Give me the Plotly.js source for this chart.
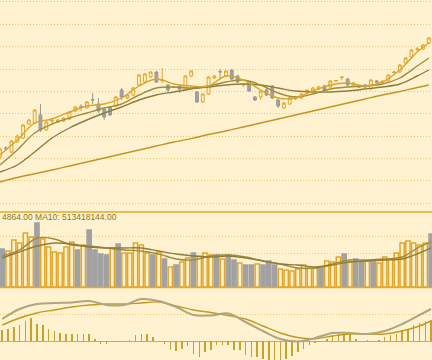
<!DOCTYPE html>
<html>
<head>
<meta charset="utf-8">
<script src="https://cdn.plot.ly/plotly-3.0.1.min.js"></script>
<style>html,body{margin:0;padding:0;background:#FFF2D0;}#chart{width:432px;height:360px;}</style>
</head>
<body>
<div id="chart"></div>
<script>
// ---- data ----
// candle index 0..75
const candleIdx = Array.from({length: 76}, (_, i) => i);
const openP  = [2550,2640,2600,2700,2740,2880,2890,2970,2820,2910,2900,2910,2930,3010,3055,3040,3125,3080,3030,3050,3060,3220,3140,3170,3270,3300,3350,3400,3315,3270,3245,3260,3220,3360,3200,3100,3180,3340,3405,3360,3420,3360,3270,3300,3150,3150,3220,3260,3120,3040,3080,3130,3140,3200,3210,3230,3260,3250,3310,3345,3330,3260,3255,3270,3230,3310,3300,3310,3395,3400,3490,3550,3625,3630,3690,3740];
const highP  = [2650,2660,2720,2775,2880,2930,3030,3080,2910,2940,2930,2950,3010,3060,3080,3110,3190,3140,3040,3060,3160,3240,3180,3250,3380,3390,3410,3410,3440,3280,3260,3270,3370,3420,3210,3190,3360,3370,3430,3420,3430,3370,3290,3310,3160,3220,3250,3270,3130,3100,3150,3160,3190,3230,3250,3260,3270,3320,3320,3350,3340,3300,3270,3280,3330,3320,3320,3380,3410,3480,3550,3630,3650,3680,3750,3750];
const lowP   = [2520,2610,2590,2690,2730,2870,2880,2800,2810,2890,2890,2900,2920,3000,3010,3030,3080,2990,2920,2960,3050,3120,3130,3160,3260,3290,3340,3290,3290,3190,3240,3190,3210,3350,3090,3090,3170,3330,3340,3350,3320,3290,3250,3200,3110,3120,3160,3130,3040,3030,3070,3120,3130,3190,3200,3220,3210,3240,3300,3320,3260,3250,3240,3240,3220,3290,3290,3300,3380,3390,3480,3540,3610,3620,3680,3710];
const closeP = [2630,2635,2710,2760,2870,2920,3020,2820,2900,2915,2920,2940,3000,3050,3050,3100,3120,3010,2950,2970,3150,3150,3170,3240,3370,3380,3400,3300,3320,3220,3250,3230,3360,3410,3100,3180,3350,3360,3400,3410,3330,3300,3275,3210,3120,3210,3170,3140,3060,3090,3140,3150,3180,3220,3240,3250,3220,3310,3315,3350,3270,3290,3250,3250,3320,3300,3305,3370,3400,3470,3540,3620,3630,3670,3740,3720];
// volume / MACD index 1..75
const barIdx = Array.from({length: 75}, (_, i) => i + 1);
const volume = [650,616,804,752,923,855,1094,821,684,598,581,684,770,633,718,975,633,564,547,667,735,581,581,752,718,581,547,598,479,342,376,428,496,581,530,581,547,547,479,547,462,410,376,376,393,376,445,376,308,291,274,308,376,325,325,342,445,428,513,564,428,479,445,445,428,410,513,479,581,752,787,752,718,752,906];
const macdHist = [10.7,12,14,16,20,23,17,16,12,10,8,7,7,7,7,7,2,-3,-3,-1,0,0.5,1,6,7,7,4,0,-3,-9,-10,-8,-5,-13,-16,-11,-9,-4,-4,-4,-9,-9,-14,-16,-16,-18,-19,-20,-19,-18,-15,-11,-8,-4,-2,0.5,2,6,7,7,7,2,0,0.7,0.5,1,4,6,7,11,12,16,18,20,21];
// moving averages on the price pane (candle index)
const maIdx = [0,3,6,9,12,15,18,21,24,27,30,33,36,39,42,45,48,51,54,57,60,63,66,69,72,74];
const ma5  = [2570,2720,2890,2930,3000,3060,3080,3140,3260,3330,3280,3260,3260,3360,3320,3220,3140,3140,3210,3270,3290,3260,3300,3420,3600,3690];
const ma10 = [2470,2620,2790,2880,2940,2990,3040,3080,3170,3240,3250,3240,3260,3300,3320,3270,3190,3150,3180,3230,3250,3260,3280,3340,3460,3540];
const ma20 = [2400,2470,2600,2740,2840,2920,2990,3050,3120,3170,3200,3230,3250,3270,3280,3270,3240,3210,3200,3200,3210,3230,3250,3280,3360,3420];
const ma60 = [2300,2345,2383,2420,2460,2500,2540,2580,2620,2660,2700,2734,2775,2810,2850,2890,2930,2970,3010,3050,3090,3130,3170,3205,3245,3270];
// volume MAs and MACD lines (bar index)
const lineIdx = [1,4,7,10,13,16,19,22,25,28,31,34,37,40,43,46,49,52,55,58,61,64,67,70,73,75];
const volMa5  = [530,633,838,821,718,701,667,633,616,564,479,462,530,547,513,445,393,325,325,393,462,462,479,513,684,770];
const volMa10 = [496,599,701,752,735,684,667,667,667,616,564,530,513,530,496,445,393,376,342,376,428,445,462,479,581,667];
const dif = [22,32,37,38,38.5,40,36,36,42,40,34,26,25.5,27.5,19,10,2,-0.5,3,8,8,7,10,17,26,32];
const dea = [16,23,28,31,34,36,37,37,38,39,35,31,28.5,25.5,22,15,8,3.5,2.3,5,7,7,7,10,15,20];
const legendText = '4864.00 MA10: 513418144.00';

// ---- styles ----
const BG = '#FFF2D0';
const GOLD = '#E2A52A';
const GREY = '#A2A2A2';
const GRID = '#F0C766';
const H = 360;
const py = p => 1 - p / H;  // pixel row -> paper fraction

const barUp = barIdx.map(n => closeP[n] >= openP[n]);

const traces = [
  {type:'candlestick', x: candleIdx, open: openP, high: highP, low: lowP, close: closeP,
   xaxis:'x', yaxis:'y', whiskerwidth: 0,
   increasing:{line:{color:GOLD, width:1}, fillcolor: BG},
   decreasing:{line:{color:'#999999', width:1}, fillcolor: GREY}, hoverinfo:'skip'},
  {type:'scatter', mode:'lines', x: maIdx, y: ma60, xaxis:'x', yaxis:'y', line:{color:'#C39422', width:1.4, shape:'spline'}},
  {type:'scatter', mode:'lines', x: maIdx, y: ma20, xaxis:'x', yaxis:'y', line:{color:'#8F7C3C', width:1.4, shape:'spline'}},
  {type:'scatter', mode:'lines', x: maIdx, y: ma10, xaxis:'x', yaxis:'y', line:{color:'#A38B38', width:1.4, shape:'spline'}},
  {type:'scatter', mode:'lines', x: maIdx, y: ma5,  xaxis:'x', yaxis:'y', line:{color:'#D6A52A', width:1.4, shape:'spline'}},
  {type:'bar', x: barIdx, y: volume, xaxis:'x2', yaxis:'y2', width: 0.72,
   marker:{color: barUp.map(u => u ? BG : GREY), line:{color: barUp.map(u => u ? GOLD : GREY), width:1.5}}},
  {type:'scatter', mode:'lines', x: lineIdx, y: volMa5,  xaxis:'x2', yaxis:'y2', line:{color:'#A38B38', width:1.4, shape:'spline'}},
  {type:'scatter', mode:'lines', x: lineIdx, y: volMa10, xaxis:'x2', yaxis:'y2', line:{color:'#8F7C3C', width:1.4, shape:'spline'}},
  {type:'bar', x: barIdx, y: macdHist, xaxis:'x3', yaxis:'y3', width: 0.26, marker:{color:'#C9A22C', line:{width:0}}},
  {type:'scatter', mode:'lines', x: lineIdx, y: dea, xaxis:'x3', yaxis:'y3', line:{color:'#C49A1E', width:1.4, shape:'spline'}},
  {type:'scatter', mode:'lines', x: lineIdx, y: dif, xaxis:'x3', yaxis:'y3', line:{color:'#AFA583', width:2, shape:'spline'}}
];

const hiddenX = {visible:false, fixedrange:true};
const gridY = {showticklabels:false, zeroline:false, gridcolor: GRID, griddash:'1px,2px', gridwidth:1, fixedrange:true};

const layout = {
  width: 432, height: 360, margin:{l:0,r:0,t:0,b:0,pad:0},
  paper_bgcolor: BG, plot_bgcolor: BG, showlegend:false, bargap:0, boxgap:0.3,
  xaxis: Object.assign({}, hiddenX, {anchor:'y', range:[0.017, 74.55], rangeslider:{visible:false}}),
  xaxis2: Object.assign({}, hiddenX, {anchor:'y2', range:[0.62, 75.156]}),
  xaxis3: Object.assign({}, hiddenX, {anchor:'y3', range:[0.62, 75.156]}),
  yaxis: Object.assign({}, gridY, {domain:[py(212), 1], range:[2000, 4120], tickmode:'linear', tick0: 2087, dtick: 223.7}),
  yaxis2: Object.assign({}, gridY, {domain:[py(287), py(212)], range:[0, 1282], tickmode:'array', tickvals:[581, 855]}),
  yaxis3: Object.assign({}, gridY, {domain:[0, py(287)], range:[-19, 54], tickmode:'array', tickvals:[27],
          zeroline:true, zerolinecolor:'#D9AA40', zerolinewidth:1}),
  shapes: [
    {type:'line', xref:'paper', yref:'paper', x0:0, x1:1, y0:py(212), y1:py(212), line:{color:'#E2AA2A', width:1.5}},
    {type:'line', xref:'paper', yref:'paper', x0:0, x1:1, y0:py(287.5), y1:py(287.5), line:{color:'#E2AA2A', width:1.5}}
  ],
  annotations: [
    {xref:'paper', yref:'paper', x:0, y:py(216.5), xanchor:'left', yanchor:'middle', showarrow:false,
     text: legendText, font:{family:'Liberation Sans', size:8.5, color:'#8F7420'}}
  ]
};

Plotly.newPlot('chart', traces, layout, {staticPlot:true, displayModeBar:false});
</script>
</body>
</html>
